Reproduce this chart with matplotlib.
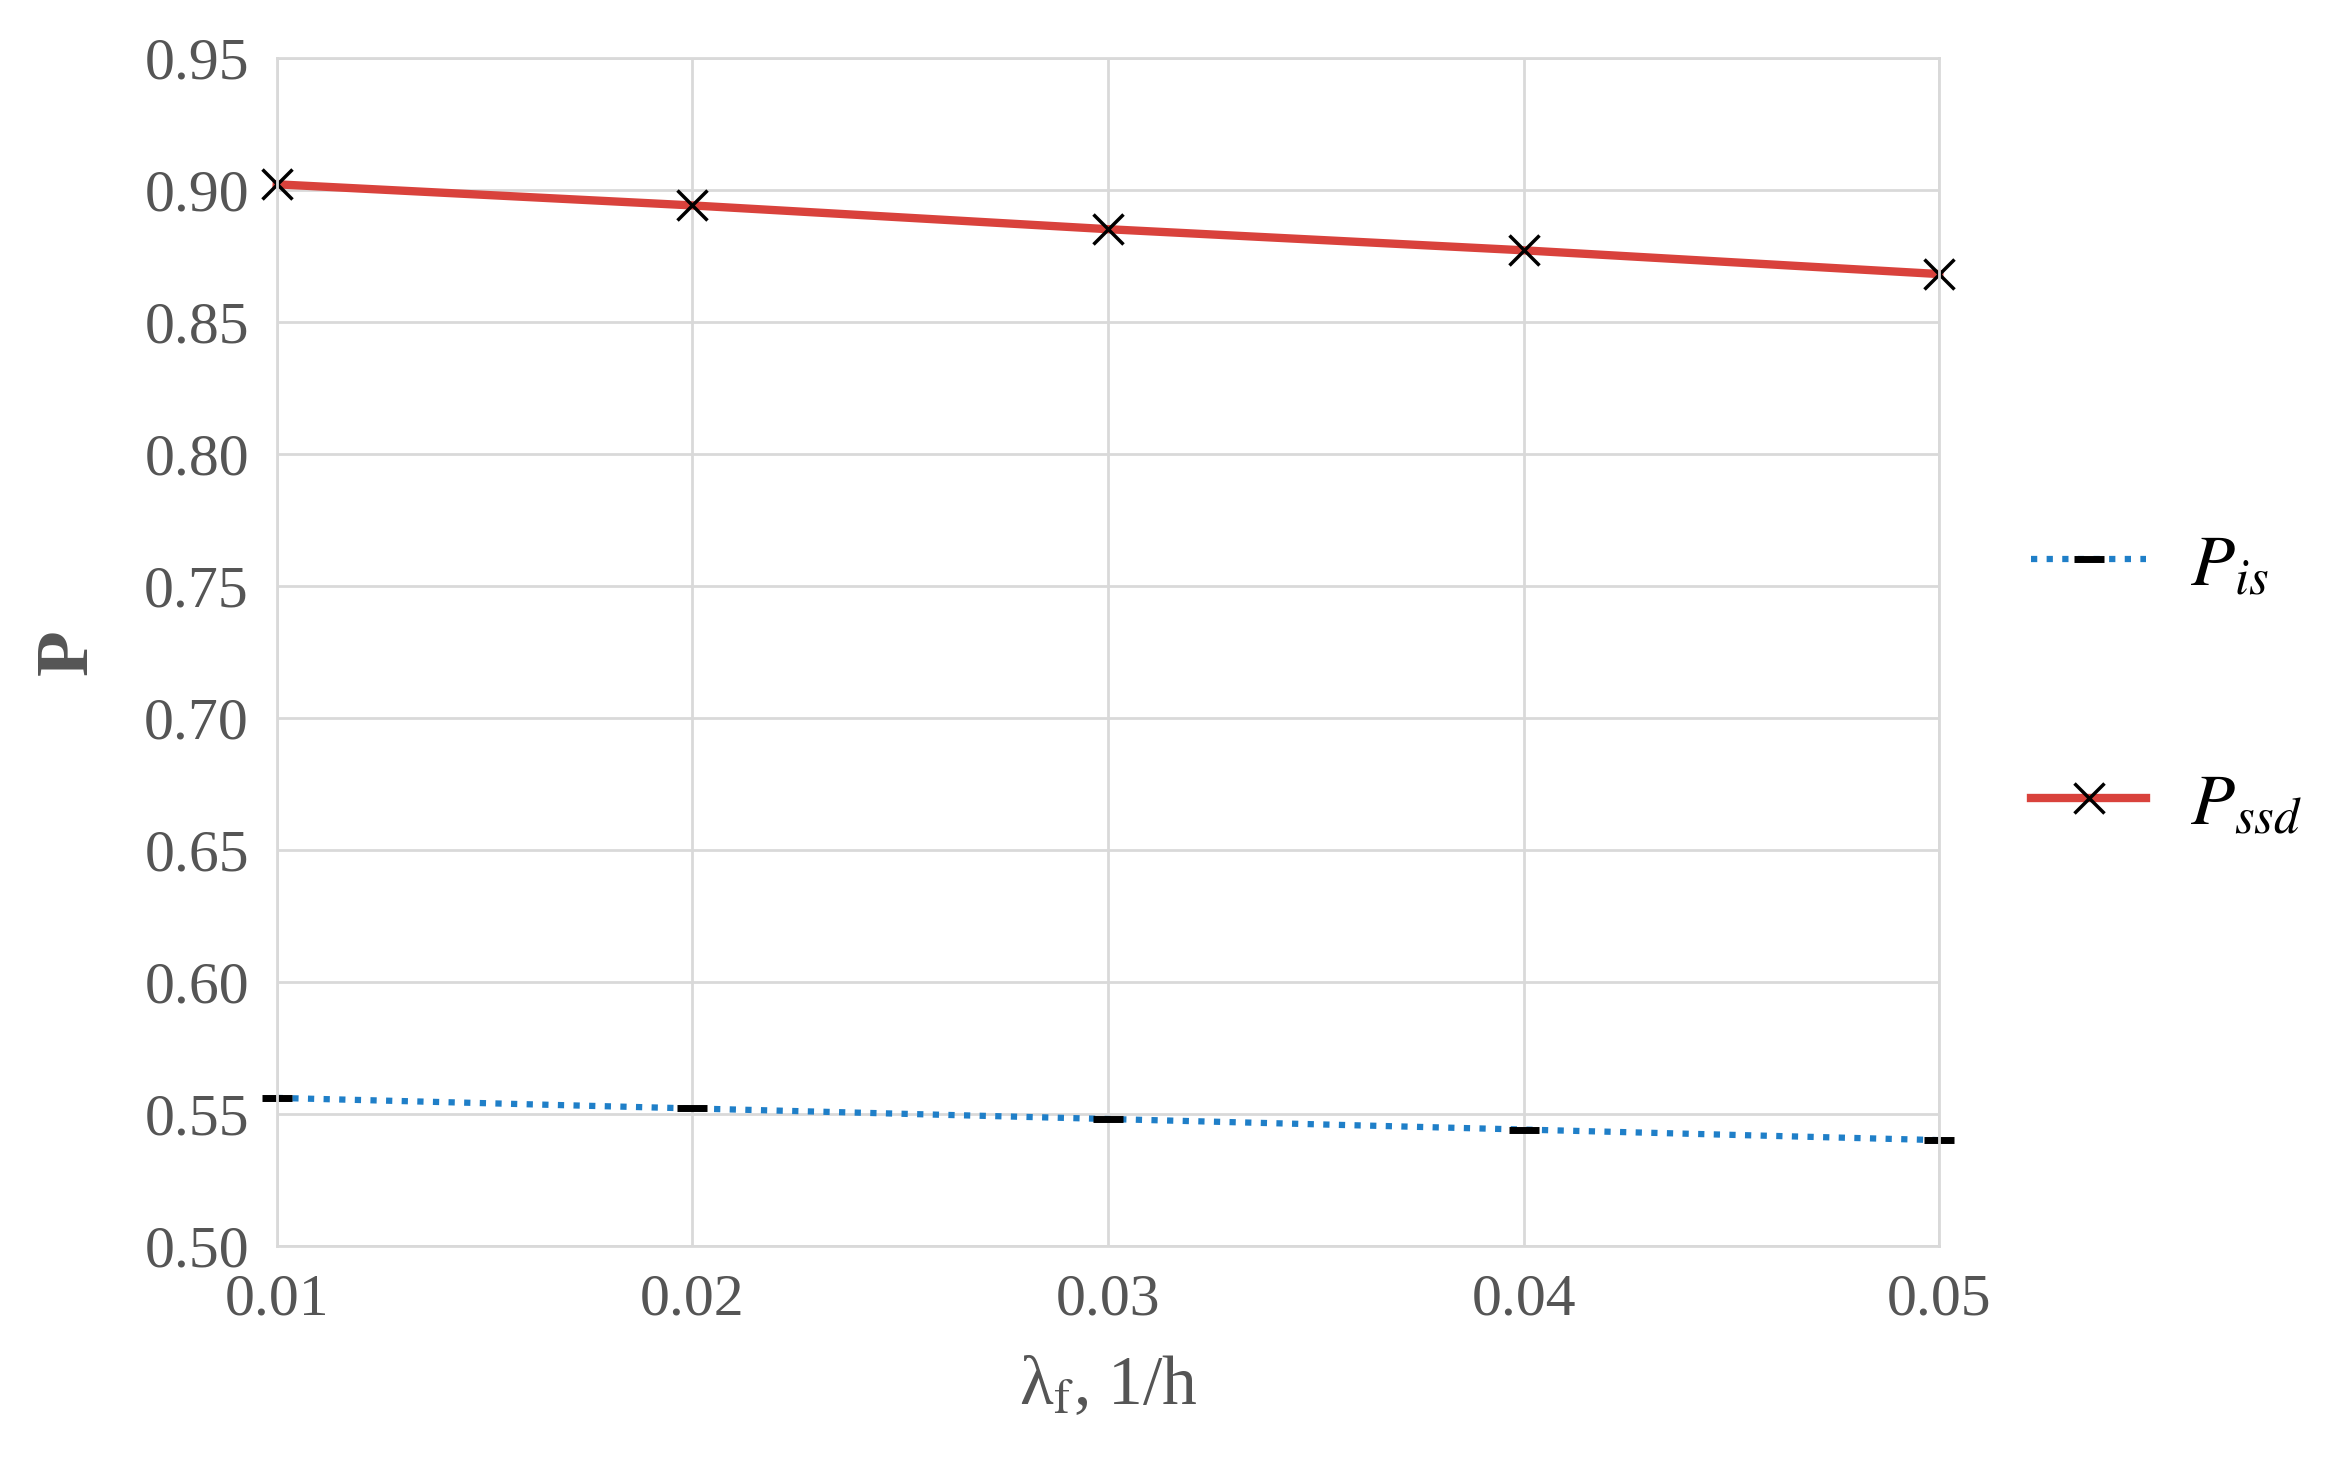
import matplotlib.pyplot as plt

plt.rcParams['font.family'] = ['Liberation Serif', 'DejaVu Serif']
plt.rcParams['mathtext.fontset'] = 'stix'

# DATA
lam = [0.01, 0.02, 0.03, 0.04, 0.05]
p_is = [0.556, 0.552, 0.548, 0.544, 0.540]
p_ssd = [0.902, 0.894, 0.885, 0.877, 0.868]
yticks = [0.50, 0.55, 0.60, 0.65, 0.70, 0.75, 0.80, 0.85, 0.90, 0.95]

fig = plt.figure(figsize=(23.45, 14.76), dpi=100)
ax = fig.add_axes([0.118, 0.156, 0.709, 0.805])

ax.plot(lam, p_is, linestyle=(0, (1, 1.5)), color='#1f7fc8', linewidth=4.5,
        marker='_', markersize=22, markeredgewidth=5, markeredgecolor='black',
        label='$P_{is}$', clip_on=False)
ax.plot(lam, p_ssd, color='#d9423c', linewidth=6,
        marker='x', markersize=22, markeredgewidth=2.5, markeredgecolor='black',
        label='$P_{ssd}$', clip_on=False)

ax.set_xlim(0.01, 0.05)
ax.set_ylim(0.50, 0.95)
ax.set_xticks(lam)
ax.set_xticklabels([f'{v:.2f}' for v in lam])
ax.set_yticks(yticks)
ax.set_yticklabels([f'{v:.2f}' for v in yticks])
ax.tick_params(labelsize=43, colors='#555555', length=0, pad=20)
ax.grid(color='#d9d9d9', linewidth=2)
for s in ax.spines.values():
    s.set_color('#d9d9d9')
    s.set_linewidth(2)

ax.set_xlabel(r'λ$_\mathrm{f}$, 1/h', fontsize=50, color='#555555', labelpad=20)
ax.set_ylabel('P', fontsize=54, color='#555555', fontweight='bold', labelpad=30)

leg = fig.legend(loc='center left', bbox_to_anchor=(0.866, 0.535), frameon=False,
                 fontsize=52, labelspacing=2.4, handlelength=1.6, handletextpad=0.6,
                 borderaxespad=0, borderpad=0)

fig.savefig('out.png', dpi=100, facecolor='white')
